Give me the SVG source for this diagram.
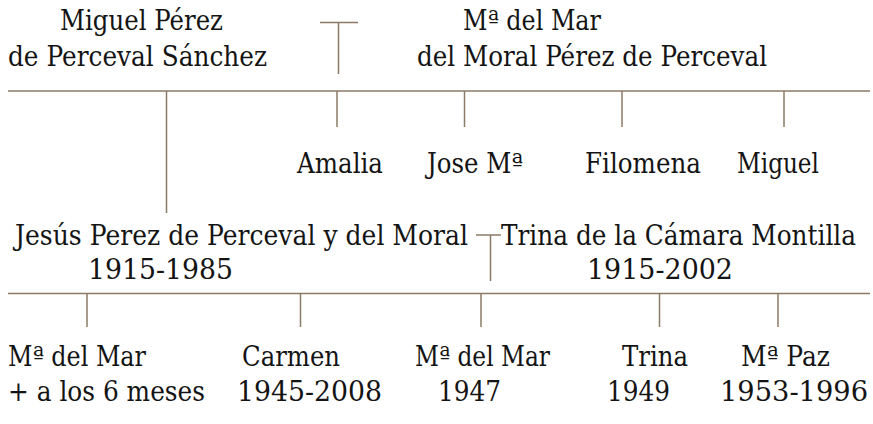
<svg xmlns="http://www.w3.org/2000/svg" width="873" height="424" viewBox="0 0 873 424">
<style>
text{font-family:"DejaVu Serif","Liberation Serif",serif;font-size:27px;fill:#141414}
.c line{stroke:#8b7a66;stroke-width:1.5;fill:none}
</style>
<rect width="873" height="424" fill="#fff"/>
<g class="c" id="connectors">
<line x1="8" y1="91" x2="870" y2="91"/>
<line x1="320" y1="22.5" x2="358" y2="22.5"/>
<line x1="338.5" y1="22.5" x2="338.5" y2="74"/>
<line x1="166.5" y1="91" x2="166.5" y2="213"/>
<line x1="337" y1="91" x2="337" y2="127"/>
<line x1="464.5" y1="91" x2="464.5" y2="127"/>
<line x1="622" y1="91" x2="622" y2="127"/>
<line x1="784" y1="91" x2="784" y2="127"/>
<line x1="8" y1="293.5" x2="870" y2="293.5"/>
<line x1="476" y1="235" x2="501" y2="235"/>
<line x1="490.5" y1="235" x2="490.5" y2="281"/>
<line x1="87" y1="293.5" x2="87" y2="327"/>
<line x1="300.5" y1="293.5" x2="300.5" y2="327"/>
<line x1="481" y1="293.5" x2="481" y2="327"/>
<line x1="659.5" y1="293.5" x2="659.5" y2="327"/>
<line x1="778" y1="293.5" x2="778" y2="327"/>
</g>
<g id="miguel-perez">
<text x="60" y="30" textLength="163" lengthAdjust="spacingAndGlyphs">Miguel Pérez</text>
<text x="8" y="66" textLength="259" lengthAdjust="spacingAndGlyphs">de Perceval Sánchez</text>
</g>
<g id="mar-moral">
<text x="463" y="30" textLength="138" lengthAdjust="spacingAndGlyphs">Mª del Mar</text>
<text x="417" y="66" textLength="350" lengthAdjust="spacingAndGlyphs">del Moral Pérez de Perceval</text>
</g>
<g id="amalia"><text x="297" y="173" textLength="86" lengthAdjust="spacingAndGlyphs">Amalia</text></g>
<g id="jose"><text x="427" y="173" textLength="96" lengthAdjust="spacingAndGlyphs">Jose Mª</text></g>
<g id="filomena"><text x="585" y="173" textLength="116" lengthAdjust="spacingAndGlyphs">Filomena</text></g>
<g id="miguel"><text x="737" y="173" textLength="82" lengthAdjust="spacingAndGlyphs">Miguel</text></g>
<g id="jesus">
<text x="15" y="245" textLength="453" lengthAdjust="spacingAndGlyphs">Jesús Perez de Perceval y del Moral</text>
<text x="88" y="279" textLength="145" lengthAdjust="spacingAndGlyphs">1915-1985</text>
</g>
<g id="trina-camara">
<text x="501" y="245" textLength="355" lengthAdjust="spacingAndGlyphs">Trina de la Cámara Montilla</text>
<text x="587" y="279" textLength="146" lengthAdjust="spacingAndGlyphs">1915-2002</text>
</g>
<g id="mar-child">
<text x="8" y="366" textLength="138" lengthAdjust="spacingAndGlyphs">Mª del Mar</text>
<text x="8" y="401" textLength="197" lengthAdjust="spacingAndGlyphs">+ a los 6 meses</text>
</g>
<g id="carmen">
<text x="242" y="366" textLength="98" lengthAdjust="spacingAndGlyphs">Carmen</text>
<text x="237" y="401" textLength="145" lengthAdjust="spacingAndGlyphs">1945-2008</text>
</g>
<g id="mar-1947">
<text x="415" y="366" textLength="135" lengthAdjust="spacingAndGlyphs">Mª del Mar</text>
<text x="438" y="401" textLength="63" lengthAdjust="spacingAndGlyphs">1947</text>
</g>
<g id="trina">
<text x="622" y="366" textLength="66" lengthAdjust="spacingAndGlyphs">Trina</text>
<text x="607" y="401" textLength="63" lengthAdjust="spacingAndGlyphs">1949</text>
</g>
<g id="paz">
<text x="741" y="366" textLength="89" lengthAdjust="spacingAndGlyphs">Mª Paz</text>
<text x="720" y="401" textLength="148" lengthAdjust="spacingAndGlyphs">1953-1996</text>
</g>
</svg>
